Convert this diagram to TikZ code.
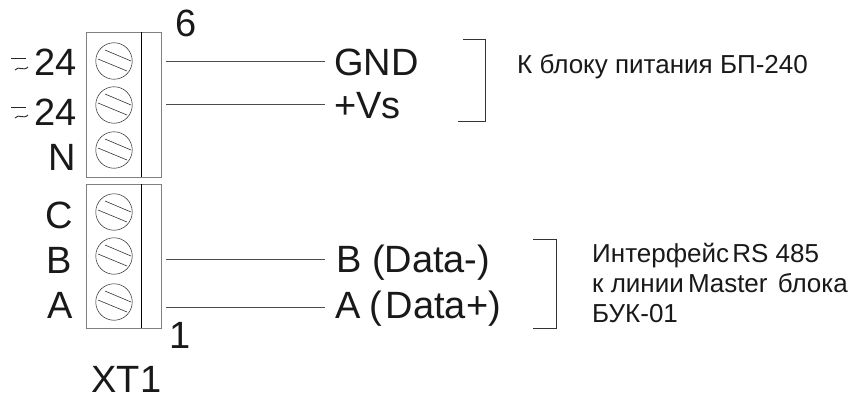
\documentclass[tikz,border=0pt]{standalone}
\usepackage{fontspec}
\setmainfont{Liberation Sans}
\usetikzlibrary{calc}
\begin{document}
\begin{tikzpicture}[x=1pt,y=-1pt,
  boxline/.style={draw=black!50,line width=0.8pt},
  sep/.style={draw=black,line width=0.6pt},
  screw/.style={circle,draw=black!85,line width=0.5pt,minimum size=36.5pt,inner sep=0pt},
  slot/.style={draw=black!85,line width=0.55pt},
  wire/.style={draw=black!70,line width=0.6pt},
  bracket/.style={draw=black!80,line width=0.6pt},
  big/.style={inner sep=0pt,anchor=base west,font=\fontsize{38}{38}\selectfont,text=black!90},
  small/.style={inner sep=0pt,anchor=base west,font=\fontsize{26}{30}\selectfont,text=black!90}]
\useasboundingbox (0,0) rectangle (851,396);
\fill[white] (0,0) rectangle (851,396);
\draw[boxline] (86,32) rectangle (161,177);
\draw[boxline] (86,184) rectangle (161,328);
\draw[sep] (141.5,32) -- (141.5,177);
\draw[sep] (141.5,184) -- (141.5,328);
\foreach \n/\y in {s1/61,s2/105,s3/150,s4/212,s5/256,s6/302}{
  \node[screw] (\n) at (114,\y) {};
  \draw[slot] ($(\n)+(-9,-11)$) -- ($(\n)+(17,0)$);
  \draw[slot] ($(\n)+(-16,-2)$) -- ($(\n)+(13,10)$);
}
% labels
\node[big] (l24a) at (34,76) {24};
\node[big] (l24b) at (34,125) {24};
\node[big] (lN) at (48,170) {N};
\node[big] (lC) at (45,228) {C};
\node[big] (lB) at (46,273) {B};
\node[big] (lA) at (47,318) {A};
\node[big] (six) at (175,37) {6};
\node[big] (one) at (169,348) {1};
\node[big] (xt) at (91,392) {\smash{XT\kern1pt 1}};
\draw[line width=0.6pt,black!85] (11,58) -- (26,58);
\draw[line width=0.9pt,black!85] (15,70) .. controls (19,65) and (23,72) .. (28,67);
\draw[line width=0.6pt,black!85] (11,107) -- (26,107);
\draw[line width=0.9pt,black!85] (15,118) .. controls (19,113) and (23,120) .. (28,115);
\node[big] (gnd) at (334,75) {GND};
\node[big] (vs) at (334,118) {+Vs};
\node[big] (bd) at (336,272) {B (Data-)};
\node[big] (ad) at (335,318) {A\kern-2pt\ (\kern4pt Data+)};
% wires
\coordinate (w1) at (166,61);
\coordinate (w2) at (166,104);
\coordinate (w3) at (166,259);
\coordinate (w4) at (166,307);
\draw[wire] (w1) -- (325,61);
\draw[wire] (w2) -- (325,104);
\draw[wire] (w3) -- (325,259);
\draw[wire] (w4) -- (325,307);
% brackets
\draw[bracket] (463,39) -- (485,39) -- (485,121) -- (458,121);
\draw[bracket] (533,239) -- (556,239) -- (556,328) -- (533,328);
% notes
\node[small] (n1) at (517,74) {К блоку питания БП-240};
\node[small] (n2) at (592,262) {Интерфейс\kern-4pt\ RS 485};
\node[small] (n3) at (592,292) {к линии\kern-3pt\ Master\kern3pt\ блока};
\node[small] (n4) at (592,322) {БУК-01};
\end{tikzpicture}
\end{document}
